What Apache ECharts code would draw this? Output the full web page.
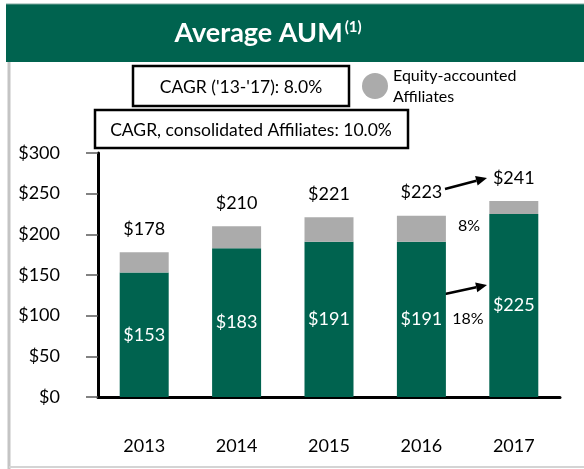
<!DOCTYPE html>
<html>
<head>
<meta charset="utf-8">
<script src="https://cdn.jsdelivr.net/npm/echarts@6/dist/echarts.min.js"></script>
<style>
  html, body { margin: 0; padding: 0; background: #fff; }
  #chart { width: 584px; height: 469px; }
</style>
</head>
<body>
<div id="chart"></div>
<script>
const years = ["2013", "2014", "2015", "2016", "2017"];
const consolidated = [153, 183, 191, 191, 225];
const totals = [178, 210, 221, 223, 241];
const equity = totals.map((t, i) => t - consolidated[i]); // gray part on top
const yTicks = [0, 50, 100, 150, 200, 250, 300];

const GREEN = "#00634F";
const GRAY = "#ABABAB";
const FONT = "Lato, 'Open Sans', sans-serif";

const chart = echarts.init(document.getElementById("chart"));

// arrow helper: line plus a filled head
function arrow(x1, y1, x2, y2) {
  const a = Math.atan2(y2 - y1, x2 - x1);
  const len = 11, w = 5;
  const bx = x2 - len * Math.cos(a), by = y2 - len * Math.sin(a);
  return [
    { type: "line", shape: { x1: x1, y1: y1, x2: bx, y2: by }, style: { stroke: "#000", lineWidth: 2.5 } },
    {
      type: "polygon",
      shape: { points: [[x2, y2], [bx + w * Math.sin(a), by - w * Math.cos(a)], [bx - w * Math.sin(a), by + w * Math.cos(a)]] },
      style: { fill: "#000" }
    }
  ];
}

const option = {
  animation: false,
  textStyle: { fontFamily: FONT },
  grid: { left: 98, right: 24, top: 153, bottom: 72 },
  legend: {
    data: ["Equity-accounted\nAffiliates"],
    left: 362, top: 65,
    padding: 0,
    icon: "circle",
    itemWidth: 26, itemHeight: 26,
    itemGap: 6,
    textStyle: { fontSize: 16, color: "#000", lineHeight: 21, fontFamily: FONT }
  },
  xAxis: {
    type: "category",
    data: years,
    axisLine: { lineStyle: { color: "#000", width: 3 } },
    axisTick: { alignWithLabel: true, length: 12, lineStyle: { color: "#595959", width: 1.5 } },
    axisLabel: { margin: 40, fontSize: 18, color: "#000", fontFamily: FONT }
  },
  yAxis: {
    type: "value",
    min: 0, max: 300, interval: 50,
    splitLine: { show: false },
    axisLine: { show: true, lineStyle: { color: "#000", width: 3 } },
    axisTick: { show: true, length: 12, lineStyle: { color: "#595959", width: 1.5 } },
    axisLabel: {
      margin: 38, fontSize: 18, color: "#000", fontFamily: FONT,
      formatter: v => yTicks.includes(v) ? "$" + v : ""
    }
  },
  series: [
    {
      name: "Consolidated",
      type: "bar",
      stack: "aum",
      barWidth: 49,
      data: consolidated,
      itemStyle: { color: GREEN },
      label: {
        show: true, position: "inside",
        color: "#fff", fontSize: 18, fontFamily: FONT,
        formatter: p => "$" + p.value
      }
    },
    {
      name: "Equity-accounted\nAffiliates",
      type: "bar",
      stack: "aum",
      barWidth: 49,
      data: equity,
      itemStyle: { color: GRAY },
      label: {
        show: true, position: "top", distance: 14,
        color: "#000", fontSize: 18, fontFamily: FONT,
        formatter: p => "$" + totals[p.dataIndex]
      }
    }
  ],
  graphic: [
    // header band
    { type: "rect", shape: { x: 6, y: 4, width: 578, height: 58 }, style: { fill: GREEN } },
    { type: "line", shape: { x1: 6, y1: 4, x2: 584, y2: 4 }, style: { stroke: "#7fa89e", lineWidth: 1 } },
    {
      type: "text", x: 268, y: 33,
      style: {
        text: "{a|Average AUM}{s|(1)}",
        textAlign: "center", textVerticalAlign: "middle",
        rich: {
          a: { fill: "#fff", font: "bold 27px " + FONT, verticalAlign: "middle" },
          s: { fill: "#fff", font: "bold 15px " + FONT, verticalAlign: "top", padding: [0, 0, 0, 2] }
        }
      }
    },
    // side frame
    { type: "line", shape: { x1: 9, y1: 62, x2: 9, y2: 469 }, style: { stroke: "#c4c4c4", lineWidth: 3 } },
    { type: "line", shape: { x1: 9, y1: 467, x2: 584, y2: 467 }, style: { stroke: "#d4d4d4", lineWidth: 2 } },
    // CAGR boxes
    { type: "rect", shape: { x: 133, y: 66, width: 216, height: 40 }, style: { fill: "#fff", stroke: "#000", lineWidth: 2.5 } },
    {
      type: "text", x: 241, y: 87,
      style: { text: "CAGR ('13-'17): 8.0%", fill: "#000", font: "17.5px " + FONT, textAlign: "center", textVerticalAlign: "middle" }
    },
    { type: "rect", shape: { x: 95, y: 110, width: 313, height: 38 }, style: { fill: "#fff", stroke: "#000", lineWidth: 2.5 } },
    {
      type: "text", x: 251, y: 130,
      style: { text: "CAGR, consolidated Affiliates: 10.0%", fill: "#000", font: "17.5px " + FONT, textAlign: "center", textVerticalAlign: "middle" }
    },
    // growth annotations
    ...arrow(445, 189, 487, 178),
    ...arrow(445, 294, 487, 285),
    {
      type: "text", x: 469, y: 226,
      style: { text: "8%", fill: "#000", font: "16px " + FONT, textAlign: "center", textVerticalAlign: "middle" }
    },
    {
      type: "text", x: 468, y: 319,
      style: { text: "18%", fill: "#000", font: "16px " + FONT, textAlign: "center", textVerticalAlign: "middle" }
    }
  ]
};

chart.setOption(option);
window.addEventListener("resize", () => chart.resize());
</script>
</body>
</html>
